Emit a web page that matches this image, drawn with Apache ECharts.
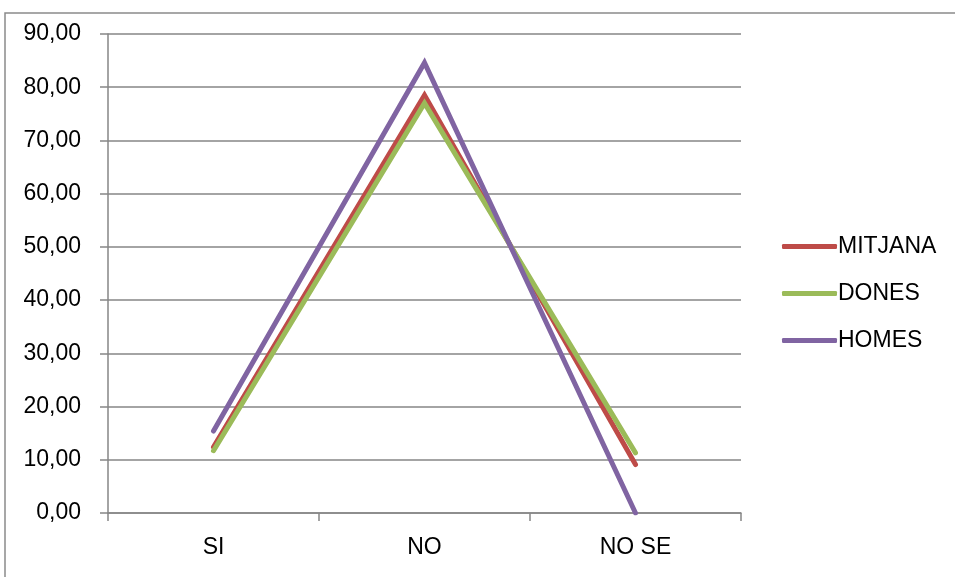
<!DOCTYPE html>
<html><head><meta charset="utf-8">
<script src="https://cdn.jsdelivr.net/npm/echarts@6/dist/echarts.min.js"></script>
<style>html,body{margin:0;padding:0;background:#fff}#c{width:955px;height:577px}</style>
</head><body><div id="c"></div>
<script>
const categories = ['SI', 'NO', 'NO SE'];
const mitjana = [12.4, 78.5, 9.1];
const dones = [11.7, 77.0, 11.3];
const homes = [15.4, 84.6, 0.0];
const seriesNames = ['MITJANA', 'DONES', 'HOMES'];
const colors = ['#BE4B48', '#9BBB59', '#8064A2'];

const FONT = '"Liberation Sans", Arial, sans-serif';
const chart = echarts.init(document.getElementById('c'));
const mk = (name, data, color) => ({
  name, type: 'line', data, symbol: 'none', color,
  lineStyle: { width: 5, color, cap: 'round', join: 'miter' }
});
chart.setOption({
  animation: false,
  grid: { left: 108, right: 214, top: 34, bottom: 64 },
  graphic: [{
    type: 'rect', shape: { x: 5, y: 13, width: 1000, height: 700 },
    style: { fill: 'none', stroke: '#8a8a8a', lineWidth: 1.5 }, silent: true
  }],
  legend: {
    orient: 'vertical', left: 777, top: 230, itemGap: 24,
    itemWidth: 55, itemHeight: 5, icon: 'roundRect',
    textStyle: { fontFamily: FONT, fontSize: 23, color: '#000', padding: [0, 0, 0, -4] },
    data: seriesNames
  },
  xAxis: {
    type: 'category', data: categories, boundaryGap: true,
    axisLine: { lineStyle: { color: '#868686', width: 1.5 } },
    axisTick: { show: true, length: 8, lineStyle: { color: '#868686', width: 1.5 } },
    axisLabel: { fontFamily: FONT, fontSize: 23, color: '#000', margin: 23 }
  },
  yAxis: {
    type: 'value', min: 0, max: 90, interval: 10,
    axisLine: { show: true, lineStyle: { color: '#868686', width: 1.5 } },
    axisTick: { show: true, length: 8, lineStyle: { color: '#868686', width: 1.5 } },
    splitLine: { lineStyle: { color: '#868686', width: 1.5 } },
    axisLabel: { fontFamily: FONT, fontSize: 23, color: '#000', margin: 27,
      formatter: v => v.toFixed(2).replace('.', ',') }
  },
  series: [mk(seriesNames[0], mitjana, colors[0]), mk(seriesNames[1], dones, colors[1]), mk(seriesNames[2], homes, colors[2])]
});
</script></body></html>
